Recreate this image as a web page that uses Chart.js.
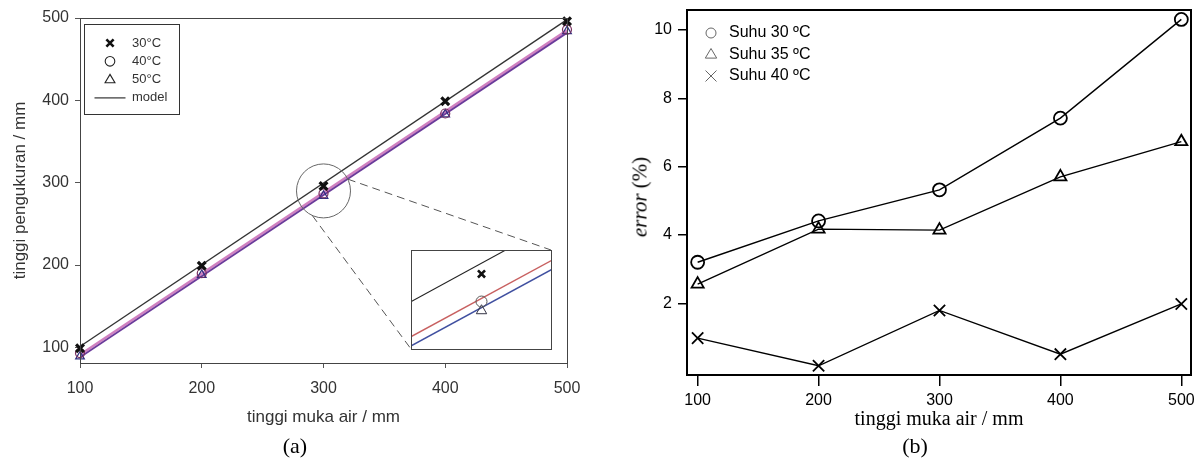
<!DOCTYPE html>
<html>
<head>
<meta charset="utf-8">
<script src="https://cdn.jsdelivr.net/npm/chart.js@4.4.0/dist/chart.umd.min.js"></script>
<style>
  body { margin: 0; background: #fff; }
  #wrap { position: relative; width: 1202px; height: 466px; overflow: hidden; background: #fff; }
  .panel { position: absolute; top: 0; height: 466px; }
  #pa { left: 0; width: 600px; }
  #pb { left: 600px; width: 602px; }
  #inset { position: absolute; left: 411px; top: 250px; width: 141px; height: 100px;
           border: 1px solid #444; box-sizing: border-box; background: #fff; }
  .cap { position: absolute; top: 432px; width: 80px; text-align: center;
         font: 22px "Liberation Serif", "Times New Roman", serif; color: #000; line-height: 28px; }
  #ytb { position: absolute; left: 640px; top: 197px; transform: translate(-50%, -50%) rotate(-90deg);
         font: 21px "Liberation Serif", "Times New Roman", serif; white-space: nowrap; color: #000; }
</style>
</head>
<body>
<div id="wrap">
  <div class="panel" id="pa"><canvas id="ca"></canvas></div>
  <div id="inset"><canvas id="ci"></canvas></div>
  <div class="panel" id="pb"><canvas id="cb"></canvas></div>
  <div id="ytb"><i>error</i> (%)</div>
  <div class="cap" style="left:255px">(a)</div>
  <div class="cap" style="left:875px">(b)</div>
</div>
<script>
// panel (a): tinggi pengukuran vs tinggi muka air
const xVals = [100, 200, 300, 400, 500];
const ukur30 = [99, 199, 296, 399, 496];
const ukur40 = [93, 190, 287, 384, 486];
const ukur50 = [89, 188, 284, 383, 484];
const modelX = [100, 500];
const model30 = [101, 498];
const model40 = [91, 485];
const model50 = [88, 482];
const ticksA = [100, 200, 300, 400, 500];
const labelsA = ['30°C', '40°C', '50°C', 'model'];

// panel (b): error (%)
const err30 = [3.2, 4.41, 5.32, 7.42, 10.31];
const err35 = [2.56, 4.17, 4.14, 5.7, 6.73];
const err40 = [0.98, 0.17, 1.79, 0.51, 1.98];
const ticksErr = [2, 4, 6, 8, 10];
const labelsB = ['Suhu 30 ºC', 'Suhu 35 ºC', 'Suhu 40 ºC'];

const sans = '"Liberation Sans", Arial, sans-serif';
const serif = '"Liberation Serif", "Times New Roman", serif';

function pts(xs, ys) {
  return xs.map((x, i) => ({ x: x, y: ys[i] }));
}

function fixTicks(list) {
  return function (scale) { scale.ticks = list.map(v => ({ value: v })); };
}

// force the axis box size so the plot area lands where it should
function fitTo(w, h) {
  return function (s) {
    if (w) s.width = w;
    if (h) s.height = h;
    s.paddingTop = 0; s.paddingBottom = 0;
    s.paddingLeft = 0; s.paddingRight = 0;
  };
}

function drawMark(ctx, style, x, y, r) {
  ctx.beginPath();
  if (style === 'circle') {
    ctx.arc(x, y, r, 0, Math.PI * 2);
  } else if (style === 'triangle') {
    ctx.moveTo(x, y - r);
    ctx.lineTo(x + r * 0.95, y + r * 0.6);
    ctx.lineTo(x - r * 0.95, y + r * 0.6);
    ctx.closePath();
  } else if (style === 'crossRot') {
    ctx.moveTo(x - r, y - r); ctx.lineTo(x + r, y + r);
    ctx.moveTo(x + r, y - r); ctx.lineTo(x - r, y + r);
  } else if (style === 'line') {
    ctx.moveTo(x - r, y); ctx.lineTo(x + r, y);
  }
  ctx.stroke();
}

// frame, zoom circle, dashed leaders and legend for (a)
const extrasA = {
  id: 'extrasA',
  afterDraw(chart) {
    const { ctx, chartArea: a, scales } = chart;
    ctx.save();
    ctx.strokeStyle = '#444';
    ctx.lineWidth = 1;
    ctx.strokeRect(a.left + 0.5, a.top + 0.5, a.right - a.left, a.bottom - a.top);

    const cx = scales.x.getPixelForValue(300);
    const cy = scales.y.getPixelForValue(290);
    const r = 27;
    ctx.strokeStyle = '#666';
    ctx.beginPath();
    ctx.arc(cx, cy, r, 0, Math.PI * 2);
    ctx.stroke();

    const box = document.getElementById('inset');
    const bx = box.offsetLeft, by = box.offsetTop;
    const bw = box.offsetWidth, bh = box.offsetHeight;
    ctx.setLineDash([8, 5]);
    ctx.strokeStyle = '#555';
    ctx.beginPath();
    ctx.moveTo(cx + r * Math.cos(-0.45), cy + r * Math.sin(-0.45));
    ctx.lineTo(bx + bw - 1, by);
    ctx.moveTo(cx + r * Math.cos(2.0), cy + r * Math.sin(2.0));
    ctx.lineTo(bx, by + bh - 1);
    ctx.stroke();
    ctx.setLineDash([]);

    // legend box
    const lx = a.left + 4, ly = a.top + 6;
    ctx.strokeStyle = '#333';
    ctx.strokeRect(lx + 0.5, ly + 0.5, 95, 90);
    ctx.font = '13px ' + sans;
    ctx.fillStyle = '#333';
    ctx.textBaseline = 'middle';
    const styles = [['crossRot', 3.6, 2.6, '#111'], ['circle', 4.8, 1.1, '#222'], ['triangle', 5.2, 1.1, '#222'], ['line', 15.5, 1.2, '#333']];
    labelsA.forEach((t, i) => {
      const yy = ly + 19 + i * 18.3;
      const s = styles[i];
      ctx.strokeStyle = s[3];
      ctx.lineWidth = s[2];
      drawMark(ctx, s[0], lx + 26, yy, s[1]);
      ctx.fillText(t, lx + 48, yy);
    });
    ctx.restore();
  }
};

const extrasB = {
  id: 'extrasB',
  afterDraw(chart) {
    const { ctx, chartArea: a } = chart;
    ctx.save();
    ctx.strokeStyle = '#000';
    ctx.lineWidth = 2;
    ctx.strokeRect(a.left, a.top, a.right - a.left, a.bottom - a.top);

    ctx.font = '16px ' + sans;
    ctx.fillStyle = '#000';
    ctx.textBaseline = 'middle';
    const styles = ['circle', 'triangle', 'crossRot'];
    const sizes = [5, 6, 5.5];
    labelsB.forEach((t, i) => {
      const yy = a.top + 23 + i * 21.5;
      ctx.strokeStyle = '#666';
      ctx.lineWidth = 1;
      drawMark(ctx, styles[i], a.left + 24, yy, sizes[i]);
      ctx.fillText(t, a.left + 42, yy);
    });
    ctx.restore();
  }
};

Chart.defaults.animation = false;
Chart.defaults.responsive = true;
Chart.defaults.maintainAspectRatio = false;
Chart.defaults.layout.autoPadding = false;
Chart.defaults.plugins.legend.display = false;
Chart.defaults.plugins.tooltip.enabled = false;

new Chart(document.getElementById('ca'), {
  type: 'scatter',
  data: {
    datasets: [
      { label: labelsA[0], data: pts(xVals, ukur30), pointStyle: 'crossRot', pointRadius: 5.5,
        pointBorderWidth: 3.2, pointBorderColor: '#111', clip: false },
      { label: labelsA[1], data: pts(xVals, ukur40), pointStyle: 'circle', pointRadius: 4.5,
        pointBorderWidth: 1.2, pointBorderColor: '#7a3060', pointBackgroundColor: 'rgba(0,0,0,0)', clip: false },
      { label: labelsA[2], data: pts(xVals, ukur50), pointStyle: 'triangle', pointRadius: 5,
        pointBorderWidth: 1.2, pointBorderColor: '#303080', pointBackgroundColor: 'rgba(0,0,0,0)', clip: false },
      { label: 'model 30', data: pts(modelX, model30), showLine: true, pointRadius: 0,
        borderColor: '#333', borderWidth: 1.3 },
      { label: 'model 50', data: pts(modelX, model50), showLine: true, pointRadius: 0,
        borderColor: '#6a3a9a', borderWidth: 1.8 },
      { label: 'model 40', data: pts(modelX, model40), showLine: true, pointRadius: 0,
        borderColor: '#d080c0', borderWidth: 2.6 }
    ]
  },
  options: {
    layout: { padding: { left: 0, top: 18, right: 33, bottom: 0 } },
    scales: {
      x: {
        type: 'linear', min: 100, max: 500,
        afterBuildTicks: fixTicks(ticksA),
        afterFit: fitTo(0, 103),
        grid: { drawOnChartArea: false, tickLength: 5, color: '#555' },
        border: { display: false },
        ticks: { font: { family: sans, size: 16 }, color: '#333', padding: 11 },
        title: { display: true, text: 'tinggi muka air / mm', color: '#333',
                 font: { family: sans, size: 17 }, padding: { bottom: 38 } }
      },
      y: {
        type: 'linear', min: 81, max: 500,
        afterBuildTicks: fixTicks(ticksA),
        afterFit: fitTo(80, 0),
        grid: { drawOnChartArea: false, tickLength: 5, color: '#555' },
        border: { display: false },
        ticks: { font: { family: sans, size: 16 }, color: '#333', padding: 6 },
        title: { display: true, text: 'tinggi pengukuran / mm', color: '#333',
                 font: { family: sans, size: 17 }, padding: { top: 10 } }
      }
    }
  },
  plugins: [extrasA]
});

// zoomed inset around x = 300
new Chart(document.getElementById('ci'), {
  type: 'scatter',
  data: {
    datasets: [
      { data: pts(xVals, ukur30), pointStyle: 'crossRot', pointRadius: 5, pointBorderWidth: 2.6, pointBorderColor: '#111' },
      { data: pts(xVals, ukur40), pointStyle: 'circle', pointRadius: 5.5, pointBorderWidth: 1, pointBorderColor: '#555', pointBackgroundColor: 'rgba(0,0,0,0)' },
      { data: pts(xVals, ukur50), pointStyle: 'triangle', pointRadius: 6, pointBorderWidth: 1, pointBorderColor: '#334', pointBackgroundColor: 'rgba(0,0,0,0)' },
      { data: pts(modelX, model30), showLine: true, pointRadius: 0, borderColor: '#222', borderWidth: 1.1 },
      { data: pts(modelX, model40), showLine: true, pointRadius: 0, borderColor: '#c86060', borderWidth: 1.5 },
      { data: pts(modelX, model50), showLine: true, pointRadius: 0, borderColor: '#4050a0', borderWidth: 1.5 }
    ]
  },
  options: {
    layout: { padding: 0 },
    scales: {
      x: { type: 'linear', display: false, min: 287.5, max: 312.5 },
      y: { type: 'linear', display: false, min: 271.5, max: 303.5 }
    }
  }
});

new Chart(document.getElementById('cb'), {
  type: 'scatter',
  data: {
    datasets: [
      { label: labelsB[0], data: pts(xVals, err30), showLine: true, borderColor: '#000', borderWidth: 1.4,
        pointStyle: 'circle', pointRadius: 6.5, pointBorderWidth: 1.8, pointBorderColor: '#000',
        pointBackgroundColor: 'rgba(0,0,0,0)', clip: false },
      { label: labelsB[1], data: pts(xVals, err35), showLine: true, borderColor: '#000', borderWidth: 1.4,
        pointStyle: 'triangle', pointRadius: 7, pointBorderWidth: 1.8, pointBorderColor: '#000',
        pointBackgroundColor: 'rgba(0,0,0,0)', clip: false },
      { label: labelsB[2], data: pts(xVals, err40), showLine: true, borderColor: '#000', borderWidth: 1.4,
        pointStyle: 'crossRot', pointRadius: 8, pointBorderWidth: 1.8, pointBorderColor: '#000', clip: false }
    ]
  },
  options: {
    layout: { padding: { left: 0, top: 10, right: 11, bottom: 0 } },
    scales: {
      x: {
        type: 'linear', min: 91.2, max: 508,
        afterBuildTicks: fixTicks(xVals),
        afterFit: fitTo(0, 91),
        grid: { drawOnChartArea: false, tickLength: 11, color: '#000', lineWidth: 1.5 },
        border: { display: false },
        ticks: { font: { family: sans, size: 16 }, color: '#000', padding: 5 },
        title: { display: true, text: 'tinggi muka air / mm', color: '#000',
                 font: { family: serif, size: 20 }, padding: { bottom: 34 } }
      },
      y: {
        type: 'linear', min: -0.1, max: 10.585,
        afterBuildTicks: fixTicks(ticksErr),
        afterFit: fitTo(87, 0),
        grid: { drawOnChartArea: false, tickLength: 9, color: '#000', lineWidth: 1.5 },
        border: { display: false },
        ticks: { font: { family: sans, size: 16 }, color: '#000', padding: 6 }
      }
    }
  },
  plugins: [extrasB]
});
</script>
</body>
</html>
